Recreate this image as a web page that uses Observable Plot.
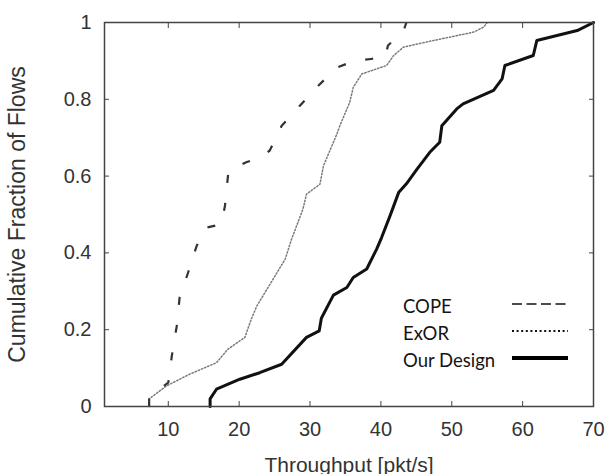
<!DOCTYPE html>
<html>
<head>
<meta charset="utf-8">
<script src="https://cdn.jsdelivr.net/npm/d3@7"></script>
<script src="https://cdn.jsdelivr.net/npm/@observablehq/plot@0.6"></script>
<style>
  html, body { margin: 0; padding: 0; background: #fff; }
  #wrap { position: relative; width: 611px; height: 474px; }
  #chart svg { font-family: "Liberation Sans", Arial, sans-serif; }
  g[aria-label="x-axis label"] text { font-size: 21px; }
  g[aria-label="y-axis label"] text { font-size: 23px; }
  #legend { position: absolute; left: 0; top: 0; width: 611px; height: 474px; pointer-events: none; }
</style>
</head>
<body>
<div id="wrap">
  <div id="chart"></div>
  <svg id="legend" width="611" height="474"></svg>
</div>
<script>
// ---- data ----
const copeX = [7.3, 7.3, 10.0, 10.5, 11.2, 11.6, 12.8, 14.0, 15.2, 17.5, 18.0, 18.5, 21.0, 22.5, 24.3, 26.0, 28.6, 31.2, 33.8, 36.3, 38.6, 40.6, 41.0, 43.2, 43.6];
const copeY = [0, 0.025, 0.062, 0.132, 0.21, 0.284, 0.349, 0.418, 0.465, 0.475, 0.523, 0.615, 0.636, 0.645, 0.666, 0.731, 0.784, 0.836, 0.883, 0.9, 0.905, 0.91, 0.94, 0.979, 1.0];

const exorX = [7.3, 7.3, 9.7, 13.0, 16.8, 18.4, 20.8, 21.7, 22.5, 24.8, 26.5, 27.4, 29.0, 29.5, 31.4, 31.9, 33.8, 34.2, 35.6, 36.1, 37.3, 40.8, 41.8, 43.2, 47.4, 53.1, 54.5, 55.0];
const exorY = [0, 0.02, 0.053, 0.084, 0.114, 0.149, 0.18, 0.227, 0.262, 0.332, 0.384, 0.436, 0.514, 0.553, 0.579, 0.627, 0.71, 0.731, 0.792, 0.831, 0.866, 0.888, 0.914, 0.936, 0.953, 0.975, 0.988, 1.0];

const oursX = [15.9, 15.9, 16.8, 20.1, 22.9, 26.0, 29.5, 31.3, 31.6, 33.3, 35.2, 36.1, 38.0, 39.4, 40.1, 41.3, 42.5, 43.6, 45.1, 46.9, 48.3, 48.6, 50.7, 51.6, 55.9, 57.1, 57.5, 61.5, 62.0, 67.7, 70.0];
const oursY = [0, 0.02, 0.045, 0.071, 0.088, 0.11, 0.18, 0.197, 0.23, 0.29, 0.31, 0.336, 0.358, 0.41, 0.44, 0.497, 0.557, 0.58, 0.618, 0.662, 0.688, 0.731, 0.775, 0.788, 0.823, 0.853, 0.888, 0.914, 0.953, 0.979, 1.0];

const xTicks = [10, 20, 30, 40, 50, 60, 70];
const yTicks = [0, 0.2, 0.4, 0.6, 0.8, 1];
const yTickLabels = ["0", "0.2", "0.4", "0.6", "0.8", "1"];
const seriesNames = ["COPE", "ExOR", "Our Design"];
const xLabel = "Throughput [pkt/s]";
const yLabel = "Cumulative Fraction of Flows";

// ---- build tables ----
const toRows = (xs, ys) => xs.map((x, i) => ({x, y: ys[i]}));
const cope = toRows(copeX, copeY);
const exor = toRows(exorX, exorY);
const ours = toRows(oursX, oursY);

const axisColor = "#444";
const textColor = "#333";

const chart = Plot.plot({
  width: 611,
  height: 474,
  marginLeft: 104,
  marginRight: 18,
  marginTop: 22,
  marginBottom: 68,
  style: {fontSize: "20px", color: textColor, background: "white"},
  x: {domain: [1, 70]},
  y: {domain: [0, 1]},
  marks: [
    Plot.lineY(exor, {x: "x", y: "y", stroke: "#7a7a7a", strokeWidth: 1.5, strokeDasharray: "1.4,2"}),
    Plot.lineY(cope, {x: "x", y: "y", stroke: "#333", strokeWidth: 2.2, strokeLinecap: "butt", strokeDasharray: "8,20"}),
    Plot.lineY(ours, {x: "x", y: "y", stroke: "#111", strokeWidth: 3, strokeLinejoin: "round"}),
    Plot.frame({stroke: axisColor, strokeWidth: 1.5}),
    Plot.axisX(xTicks, {anchor: "bottom", tickSize: -5, tickPadding: 20, stroke: axisColor, fill: textColor,
      label: xLabel, labelAnchor: "center", labelArrow: "none", labelOffset: 65}),
    Plot.axisX(xTicks, {anchor: "top", tickSize: -5, tickFormat: () => "", stroke: axisColor, label: null}),
    Plot.axisY(yTicks, {anchor: "left", tickSize: -5, tickPadding: 18, stroke: axisColor, fill: textColor,
      tickFormat: (d) => yTickLabels[yTicks.indexOf(d)],
      label: yLabel, labelAnchor: "center", labelArrow: "none", labelOffset: 96}),
    Plot.axisY(yTicks, {anchor: "right", tickSize: -5, tickFormat: () => "", stroke: axisColor, label: null})
  ]
});
document.getElementById("chart").appendChild(chart);

// ---- legend overlay ----
const lg = d3.select("#legend");
const styles = [
  {dash: "10,4.5", w: 1.6, c: "#111"},
  {dash: "2,2.6", w: 2, c: "#111"},
  {dash: null, w: 4, c: "#000"}
];
seriesNames.forEach((name, i) => {
  const base = 313 + i * 27;
  lg.append("text").attr("x", 403).attr("y", base)
    .attr("font-family", "Lato, 'Open Sans', sans-serif").attr("font-size", 18.5)
    .attr("fill", "#141414").text(name);
  const l = lg.append("line").attr("x1", 512).attr("x2", 568)
    .attr("y1", base - 9).attr("y2", base - 9)
    .attr("stroke", styles[i].c).attr("stroke-width", styles[i].w);
  if (styles[i].dash) l.attr("stroke-dasharray", styles[i].dash);
});
</script>
</body>
</html>
